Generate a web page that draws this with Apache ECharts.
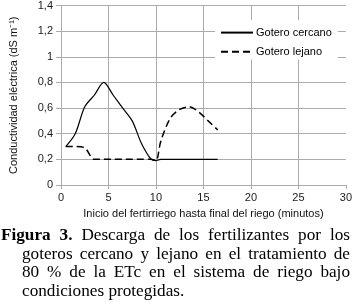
<!DOCTYPE html>
<html lang="es">
<head>
    <meta charset="utf-8">
    <title>Figura 3</title>
    <script src="https://cdn.jsdelivr.net/npm/echarts@6.0.0/dist/echarts.min.js"></script>
    <style>
        body { margin: 0; background: #fff; }
        .wrap { position: relative; width: 355px; height: 305px; overflow: hidden; }
        #chart { position: absolute; left: 0; top: 0; width: 355px; height: 305px; }
        /* pie de figura: cada renglón justificado, sangría francesa */
        .caption {
            position: absolute;
            left: 1px;
            top: 226px;
            width: 349px;
            font-family: "Liberation Serif", "Times New Roman", serif;
            font-size: 17.2px;
            line-height: 18.6px;
            color: #000;
        }
        .caption div { text-align: justify; text-align-last: justify; white-space: nowrap; }
        .caption .sang { padding-left: 21px; }
        .caption .fin { text-align-last: left; }
    </style>
</head>
<body>
<div class="wrap">
    <div id="chart"></div>
    <div class="caption">
        <div><b>Figura 3.</b> Descarga de los fertilizantes por los</div>
        <div class="sang">goteros cercano y lejano en el tratamiento de</div>
        <div class="sang">80 % de la ETc en el sistema de riego bajo</div>
        <div class="sang fin">condiciones protegidas.</div>
    </div>
</div>
<script>
// datos
const tiempo  = [0.5, 1.5, 2.5, 3.5, 4.5, 5.5, 6.5, 7.5, 8.5, 9.5, 10, 10.5, 11.5, 12.5, 13.5, 14.5, 15.5, 16.5];
const cercano = [0.30, 0.40, 0.61, 0.70, 0.80, 0.70, 0.60, 0.50, 0.32, 0.20, 0.19, 0.20, 0.20, 0.20, 0.20, 0.20, 0.20, 0.20];
const lejano  = [0.30, 0.30, 0.29, 0.20, 0.20, 0.20, 0.20, 0.20, 0.20, 0.20, 0.19, 0.34, 0.52, 0.59, 0.61, 0.57, 0.50, 0.43];
const nombres = ['Gotero cercano', 'Gotero lejano'];

const gris = '#ababab';
const fuente = '"Liberation Sans", Arial, sans-serif';

const pares = ys => tiempo.map((t, i) => [t, ys[i]]);

const chart = echarts.init(document.getElementById('chart'), null, { renderer: 'canvas' });

chart.setOption({
    animation: false,
    textStyle: { fontFamily: fuente },
    grid: { left: 58, right: 7, top: 5, bottom: 120 },
    legend: {
        data: nombres,
        orient: 'vertical',
        left: 215,
        top: 20,
        padding: [7, 6, 2, 5],
        backgroundColor: '#fff',
        itemWidth: 32,
        itemHeight: 14,
        itemGap: 8,
        // solo la línea, sin símbolo
        itemStyle: { color: 'rgba(0,0,0,0)', borderWidth: 0 },
        textStyle: { fontSize: 11, color: '#000', fontFamily: fuente, padding: [0, 0, 0, -2] }
    },
    xAxis: {
        type: 'value',
        min: 0, max: 30, interval: 5,
        name: 'Inicio del fertirriego hasta final del riego (minutos)',
        nameLocation: 'middle',
        nameGap: 23,
        nameTextStyle: { fontSize: 11, color: '#111' },
        axisLine: { lineStyle: { color: gris } },
        axisTick: { show: true, length: 4, lineStyle: { color: gris } },
        axisLabel: { fontSize: 11, color: '#1a1a1a', margin: 7 },
        splitLine: { show: true, showMaxLine: false, lineStyle: { color: gris, width: 1 } }
    },
    yAxis: {
        type: 'value',
        min: 0, max: 1.4, interval: 0.2,
        name: 'Conductividad eléctrica (dS m⁻¹)',
        nameLocation: 'middle',
        nameGap: 42,
        nameTextStyle: { fontSize: 11, color: '#111' },
        axisLine: { show: true, lineStyle: { color: gris } },
        axisTick: { show: true, length: 5, lineStyle: { color: gris } },
        axisLabel: {
            fontSize: 11, color: '#1a1a1a', margin: 8,
            formatter: v => String(+v.toFixed(1)).replace('.', ',')
        },
        splitLine: { show: true, lineStyle: { color: gris, width: 1 } }
    },
    series: [
        {
            name: nombres[0],
            type: 'line',
            data: pares(cercano),
            smooth: 0.3,
            symbol: 'none',
            lineStyle: { color: '#000', width: 1.2, type: 'solid' },
            itemStyle: { color: '#000' }
        },
        {
            name: nombres[1],
            type: 'line',
            data: pares(lejano),
            smooth: 0.3,
            symbol: 'none',
            lineStyle: { color: '#000', width: 1.5, type: [7, 4] },
            itemStyle: { color: '#000' }
        }
    ]
});
</script>
</body>
</html>
